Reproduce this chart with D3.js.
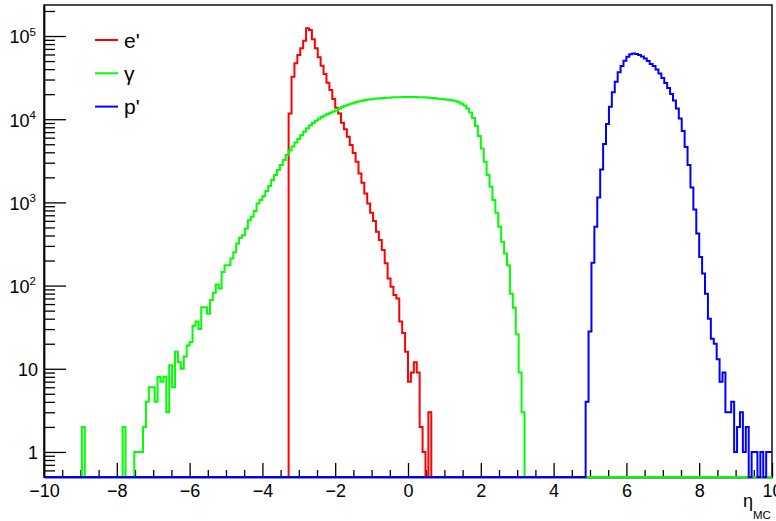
<!DOCTYPE html>
<html><head><meta charset="utf-8">
<script src="https://cdn.jsdelivr.net/npm/d3@7"></script>
<style>
html,body{margin:0;padding:0;background:#fff;}
svg{display:block;font-family:"Liberation Sans",Arial,Helvetica,sans-serif;}
</style>
</head><body>
<svg id="chart" width="776" height="521"></svg>
<script>
// ---------------- data ----------------
const etaRange = [-10, 10];
const nBins = 250;
const seriesNames = ["e'", "γ", "p'"];
const seriesColors = ["#ff0000", "#00ff00", "#0000ff"];

// e' : counts per bin starting at lower edge ePrimeFirstEdge
const ePrimeFirstEdge = -3.28;
const ePrimeCounts = [11750, 32400, 47000, 59100, 71100, 87800, 123800, 118000, 91200, 71100,
  55500, 44000, 34900, 27500, 22400, 17500, 13700, 11750, 9060, 7550,
  6150, 4890, 3920, 3080, 2230, 1720, 1280, 972, 750, 596,
  443, 352, 267, 185, 122, 97, 77, 70, 37, 27,
  16, 7, 9, 12, 9, 2, 1, 0, 3];

// gamma
const gammaFirstEdge = -8.96;
const gammaCounts = [2, 0, 0, 0, 0, 0, 0, 0, 0, 0, 0, 0, 0, 0, 2, 0, 0, 0,
  1, 1, 1, 2, 4, 6, 6, 4, 8, 7, 8, 3, 11, 6, 16, 12, 10, 14, 19, 21, 33, 37,
  30, 55, 55, 46, 67, 82, 103, 92, 146, 176, 176, 212, 252, 321, 375, 404, 486, 612, 671, 786,
  973, 1065, 1190, 1367, 1570, 1854, 2130, 2445, 2808, 3225, 3704, 4200, 4690, 5235, 5770, 6445,
  7060, 7760, 8390, 8990, 9580, 10120, 10610, 11060, 11530, 11950, 12360, 12700, 13430, 14000,
  14470, 14920, 15340, 15730, 16080, 16400, 16710, 16990, 17230, 17420, 17570, 17720, 17860, 17960,
  18060, 18160, 18270, 18320, 18370, 18420, 18470, 18470, 18470, 18470, 18470, 18420, 18370, 18320,
  18220, 18120, 17960, 17810, 17660, 17500, 17380, 17180, 16990, 16750, 16440, 15950, 15300, 14590,
  13430, 12020, 10320, 8270, 6270, 4460, 3076, 2130, 1540, 1065, 750, 508, 336, 243, 176, 80, 54, 26, 9, 3];

// p'
const pPrimeFirstEdge = 4.88;
const pPrimeCounts = [4, 28, 188, 508, 1148, 2494, 5024, 8740, 14120, 21040,
  28200, 36560, 43550, 50470, 56370, 60250, 61600, 60770, 59110, 56700,
  53640, 50050, 46060, 43590, 39560, 35400, 31250, 27210, 23690, 20070,
  16760, 13430, 10180, 7200, 4620, 2806, 1514, 823, 424, 221,
  140, 80, 40, 23, 20, 13, 7, 9, 3, 3,
  4, 1, 2, 3, 1, 2, 0, 1, 1, 0, 1, 0, 1, 1];

const xTickValues = [-10, -8, -6, -4, -2, 0, 2, 4, 6, 8, 10];
const yDecades = [1, 10, 100, 1000, 10000, 100000];
const yRange = [0.5, 2.36e5];
const xTitle = "η";
const xTitleSub = "MC";

// ---------------- layout ----------------
const W = 776, H = 521;
const plot = {left: 44, right: 772, top: 5, bottom: 477};
const svg = d3.select("#chart");

const x = d3.scaleLinear().domain(etaRange).range([plot.left, plot.right]);
const y = d3.scaleLog().domain(yRange).range([plot.bottom, plot.top]);

const binWidth = (etaRange[1] - etaRange[0]) / nBins;
function fullBins(firstEdge, counts) {
  const arr = new Array(nBins).fill(0);
  const start = Math.round((firstEdge - etaRange[0]) / binWidth);
  counts.forEach((c, i) => { arr[start + i] = c; });
  return arr;
}
function stepPoints(arr) {
  const pts = [];
  arr.forEach((v, i) => {
    const lo = etaRange[0] + i * binWidth;
    pts.push({x: lo, v: v}, {x: lo + binWidth, v: v});
  });
  return pts;
}

svg.append("defs").append("clipPath").attr("id", "clip")
  .append("rect").attr("x", plot.left - 1).attr("y", plot.top)
  .attr("width", plot.right - plot.left + 2).attr("height", plot.bottom - plot.top + 1.5);

// frame
svg.append("rect").attr("x", plot.left).attr("y", plot.top)
  .attr("width", plot.right - plot.left).attr("height", plot.bottom - plot.top)
  .attr("fill", "none").attr("stroke", "#000").attr("stroke-width", 1.4);

// axes
const minorX = d3.range(-10, 10.001, 0.5).filter(v => Math.abs(v % 2) > 1e-9);
const gxMinor = svg.append("g").attr("transform", `translate(0,${plot.bottom})`)
  .call(d3.axisBottom(x).tickValues(minorX).tickSize(-7).tickSizeOuter(0).tickFormat(""));
const gx = svg.append("g").attr("transform", `translate(0,${plot.bottom})`)
  .call(d3.axisBottom(x).tickValues(xTickValues).tickSize(-14).tickSizeOuter(0).tickFormat(d3.format("d")));
gx.selectAll("text").attr("y", 20).attr("dy", null)
  .attr("font-size", 18).attr("fill", "#000").attr("font-family", "Liberation Sans, Arial, sans-serif");

const minorY = [];
for (let e = -1; e <= 5; e++) for (let m = 2; m <= 9; m++) {
  const v = m * Math.pow(10, e);
  if (v > yRange[0] * 1.01 && v < yRange[1]) minorY.push(v);
}
svg.append("g").attr("transform", `translate(${plot.left},0)`)
  .call(d3.axisLeft(y).tickValues(minorY).tickSize(-11).tickSizeOuter(0).tickFormat(""));
const gy = svg.append("g").attr("transform", `translate(${plot.left},0)`)
  .call(d3.axisLeft(y).tickValues(yDecades).tickSize(-22).tickSizeOuter(0).tickFormat(""));
gy.selectAll(".tick").each(function(d) {
  const t = d3.select(this).select("text")
    .attr("x", null).attr("dy", null).attr("text-anchor", "end")
    .attr("font-size", 18).attr("fill", "#000").attr("font-family", "Liberation Sans, Arial, sans-serif");
  const exp = Math.round(Math.log10(d));
  if (exp <= 1) {
    t.attr("x", -6).attr("y", 6.5).text(String(d));
  } else {
    t.attr("x", -8).attr("y", 6.8);
    t.append("tspan").text("10");
    t.append("tspan").attr("font-size", 11.5).attr("dy", -7.5).text(String(exp));
  }
});
svg.selectAll(".domain").attr("stroke", "#000").attr("stroke-width", 1.4);
svg.selectAll(".tick line").attr("stroke", "#000").attr("stroke-width", 1.3);

// histograms
const line = d3.line().x(d => x(d.x)).y(d => d.v > 0 ? y(d.v) : plot.bottom);
const series = [
  fullBins(ePrimeFirstEdge, ePrimeCounts),
  fullBins(gammaFirstEdge, gammaCounts),
  fullBins(pPrimeFirstEdge, pPrimeCounts)
];
const gh = svg.append("g").attr("clip-path", "url(#clip)");
series.forEach((arr, i) => {
  gh.append("path").attr("d", line(stepPoints(arr)))
    .attr("fill", "none").attr("stroke", seriesColors[i]).attr("stroke-width", 2)
    .attr("stroke-linejoin", "miter");
});

// x title
const xt = svg.append("text").attr("x", 743).attr("y", 506.5).attr("font-size", 18).attr("fill", "#000");
xt.append("tspan").text(xTitle);
xt.append("tspan").attr("font-size", 11.5).attr("dy", 12).text(xTitleSub);

// legend
const legend = svg.append("g");
seriesNames.forEach((name, i) => {
  const ly = 40 + i * 33.3;
  legend.append("line").attr("x1", 95).attr("x2", 118).attr("y1", ly).attr("y2", ly)
    .attr("stroke", seriesColors[i]).attr("stroke-width", 2);
  legend.append("text").attr("x", 124).attr("y", ly + 7.5).attr("font-size", 21)
    .attr("fill", "#000").text(name);
});
</script>
</body></html>
